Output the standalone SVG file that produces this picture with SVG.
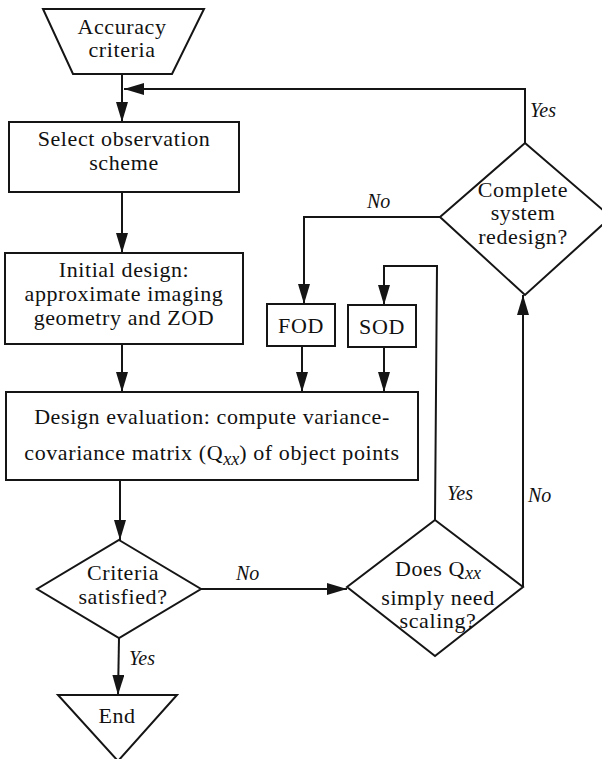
<svg xmlns="http://www.w3.org/2000/svg" width="602" height="759" viewBox="0 0 602 759">
  <style>
    .shape { fill: #fff; stroke: #151515; stroke-width: 2; stroke-linejoin: miter; }
    .wire { fill: none; stroke: #151515; stroke-width: 2; }
    .t { font-size: 22px; letter-spacing: 0.6px; fill: #111; text-anchor: middle; }
    .lbl { font-size: 20px; font-style: italic; fill: #111; }
    .sub { font-style: italic; font-size: 18px; letter-spacing: 0; }
  </style>
  <defs>
    <marker id="arrow" viewBox="0 0 20 12" refX="20" refY="6" markerWidth="20" markerHeight="12" markerUnits="userSpaceOnUse" orient="auto">
      <path d="M0,0 L20,6 L0,12 Z" fill="#151515"/>
    </marker>
  </defs>

  <g font-family="Liberation Serif, Times New Roman, Times, serif">
  <!-- connectors -->
  <g id="connectors">
    <path class="wire" d="M122,74 L122,122" marker-end="url(#arrow)"/>
    <path class="wire" d="M525,143 L525,89 L124,89" marker-end="url(#arrow)"/>
    <path class="wire" d="M122,192 L122,253" marker-end="url(#arrow)"/>
    <path class="wire" d="M122,344 L122,392" marker-end="url(#arrow)"/>
    <path class="wire" d="M440,217 L304,217 L304,304" marker-end="url(#arrow)"/>
    <path class="wire" d="M435,520 L437,266 L384,266 L384,305" marker-end="url(#arrow)"/>
    <path class="wire" d="M302,346 L302,392" marker-end="url(#arrow)"/>
    <path class="wire" d="M384,347 L384,392" marker-end="url(#arrow)"/>
    <path class="wire" d="M120,480 L120,540" marker-end="url(#arrow)"/>
    <path class="wire" d="M201,589 L347,589" marker-end="url(#arrow)"/>
    <path class="wire" d="M523,587 L523,295" marker-end="url(#arrow)"/>
    <path class="wire" d="M119,638 L118,695" marker-end="url(#arrow)"/>
    <text class="lbl" x="530" y="117">Yes</text>
    <text class="lbl" x="367" y="208">No</text>
    <text class="lbl" x="447" y="500">Yes</text>
    <text class="lbl" x="528" y="502">No</text>
    <text class="lbl" x="236" y="580">No</text>
    <text class="lbl" x="129" y="665">Yes</text>
  </g>

  <g id="accuracy-criteria">
    <path class="shape" d="M43,9 L204,9 L172,74 L73,74 Z"/>
    <text class="t" x="122" y="34">Accuracy</text>
    <text class="t" x="122" y="57">criteria</text>
  </g>

  <g id="select-scheme">
    <rect class="shape" x="9" y="122" width="230" height="70"/>
    <text class="t" x="124" y="146">Select observation</text>
    <text class="t" x="124" y="170">scheme</text>
  </g>

  <g id="initial-design">
    <rect class="shape" x="5" y="253" width="238" height="91"/>
    <text class="t" x="124" y="277">Initial design:</text>
    <text class="t" x="124" y="301">approximate imaging</text>
    <text class="t" x="124" y="325">geometry and ZOD</text>
  </g>

  <g id="fod">
    <rect class="shape" x="267" y="304" width="68" height="42"/>
    <text class="t" x="301" y="333">FOD</text>
  </g>

  <g id="sod">
    <rect class="shape" x="348" y="305" width="68" height="42"/>
    <text class="t" x="382" y="334">SOD</text>
  </g>

  <g id="design-evaluation">
    <rect class="shape" x="6" y="392" width="412" height="88"/>
    <text class="t" x="212" y="424">Design evaluation: compute variance-</text>
    <text class="t" x="212" y="460">covariance matrix (Q<tspan class="sub" dy="5">xx</tspan><tspan dy="-5">) of object points</tspan></text>
  </g>

  <g id="criteria-satisfied">
    <path class="shape" d="M119,540 L201,589 L119,638 L37,589 Z"/>
    <text class="t" x="123" y="580">Criteria</text>
    <text class="t" x="123" y="604">satisfied?</text>
  </g>

  <g id="needs-scaling">
    <path class="shape" d="M435,520 L523,587 L435,656 L347,587 Z"/>
    <text class="t" x="438" y="576">Does Q<tspan class="sub" dy="3">xx</tspan></text>
    <text class="t" x="438" y="605">simply need</text>
    <text class="t" x="438" y="628">scaling?</text>
  </g>

  <g id="system-redesign">
    <path class="shape" d="M525,143 L611,217 L525,295 L440,217 Z"/>
    <text class="t" x="523" y="197">Complete</text>
    <text class="t" x="523" y="220">system</text>
    <text class="t" x="523" y="244">redesign?</text>
  </g>

  <g id="end">
    <path class="shape" d="M58,695 L177,695 L118,761 Z"/>
    <text class="t" x="117" y="723">End</text>
  </g>
  </g>
</svg>
